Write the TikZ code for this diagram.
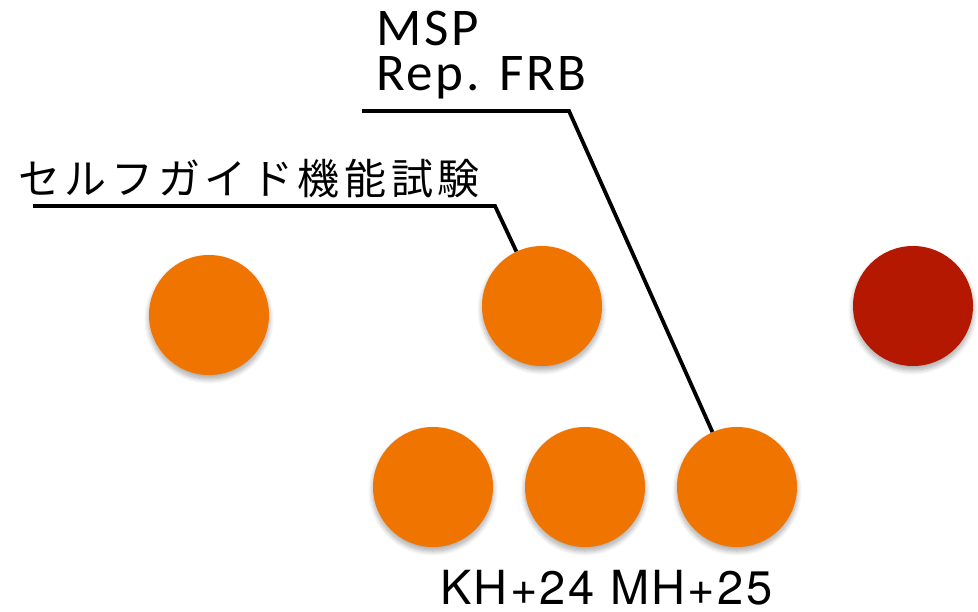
\documentclass[tikz,border=0pt]{standalone}
\usepackage{fontspec}
\setmainfont{Carlito}
\newfontfamily\calfont[LetterSpace=5]{Carlito}
\newfontfamily\jpfont[LetterSpace=11]{Noto Sans CJK JP}
\newfontfamily\helv[LetterSpace=5]{TeX Gyre Heros}
\usetikzlibrary{shadows.blur}
\definecolor{orng}{RGB}{240,116,0}
\definecolor{dred}{RGB}{180,24,0}
\tikzset{
  dot/.style={circle, minimum size=120pt, inner sep=0pt, fill=orng,
    blur shadow={shadow xshift=0pt, shadow yshift=-4pt, shadow opacity=35, shadow blur radius=5pt, shadow blur steps=12}},
  reddot/.style={dot, fill=dred},
  leader/.style={line width=3.8pt, line join=miter},
  lbl/.style={inner sep=0pt, anchor=base west}
}
\begin{document}
\begin{tikzpicture}[x=1pt, y=-1pt]
\useasboundingbox (0,0) rectangle (978,612);
\node[dot] (c1) at (209,315) {};
\node[dot] (c2) at (542,306) {};
\node[reddot] (c3) at (913,306) {};
\node[dot] (c4) at (433,487) {};
\node[dot] (c5) at (585,487) {};
\node[dot] (c6) at (737,487) {};
% labels
\node[inner sep=0pt, anchor=north west, align=left, font=\calfont\fontsize{53}{45}\selectfont] (msp) at (376,11) {MSP\\Rep. FRB};
\node[lbl, font=\jpfont\fontsize{42}{42}\selectfont] (sg) at (18,195) {セルフガイド機能試験};
\node[lbl, font=\helv\fontsize{47}{47}\selectfont] (kh) at (440,604) {KH+24 MH+25};
% leaders
\coordinate (m1) at (362,111);
\coordinate (m2) at (569,111);
\coordinate (s1) at (33,206);
\coordinate (s2) at (495,206);
\draw[leader] (m1) -- (m2) -- (c6);
\draw[leader] (s1) -- (s2) -- (c2);
\end{tikzpicture}
\end{document}
